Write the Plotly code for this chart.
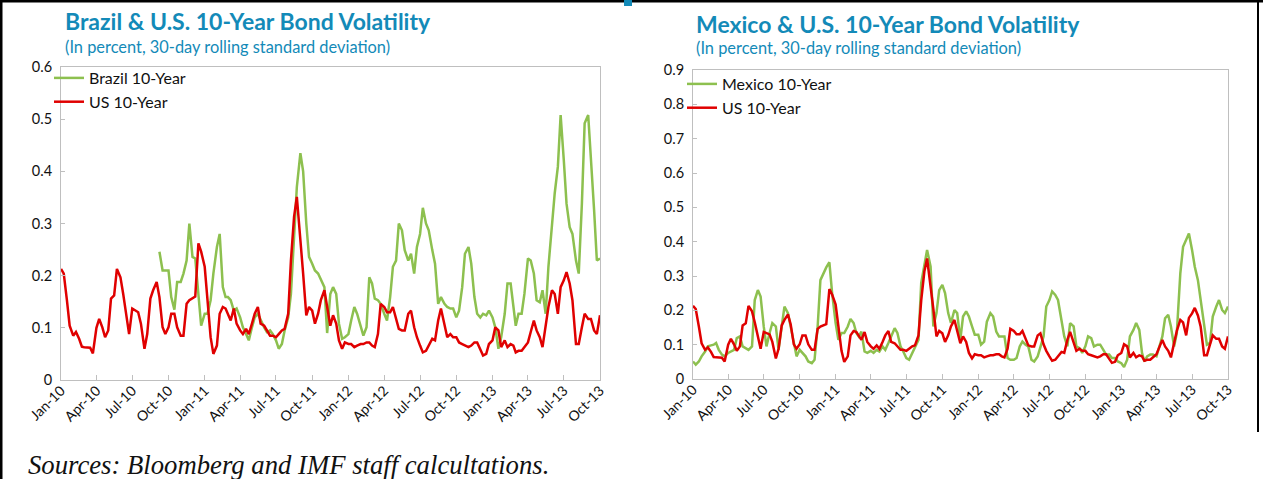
import plotly.graph_objects as go
from datetime import date

W, H = 1263, 479

# quarter-month grid: Jan-10 .. Oct-13
months = [(y, m) for y in range(2010, 2014) for m in range(1, 13)][:45]
days = [1, 8, 16, 23]
dates = [date(y, m, d) for (y, m) in months for d in days] + [date(2013, 10, 1)]

# ── values (in percent) ─────────────────────────────────────────────────────
us_10y = [
    .213, .204, .153, .104,  .085, .092, .079, .064,  .063, .062, .062, .051,
    .100, .117, .101, .082,  .095, .156, .162, .213,  .197, .165, .120, .088,
    .137, .133, .130, .108,  .060, .088, .156, .172,  .188, .159, .101, .088,
    .101, .127, .127, .101,  .085, .085, .146, .153,  .156, .160, .262, .246,
    .217, .153, .082, .050,  .066, .127, .140, .137,  .127, .114, .137, .108,
    .095, .088, .098, .088,  .108, .127, .140, .108,  .104, .095, .085, .085,
    .082, .088, .095, .098,  .127, .229, .313, .351,  .274, .204, .124, .140,
    .133, .108, .127, .153,  .172, .140, .104, .124,  .108, .076, .060, .072,
    .069, .069, .063, .066,  .069, .069, .072, .072,  .066, .063, .088, .146,
    .140, .130, .130, .140,  .120, .098, .095, .095,  .127, .133, .101, .082,
    .066, .053, .056, .066,  .079, .076, .114, .137,  .108, .082, .088, .082,
    .082, .072, .069, .066,  .063, .066, .072, .072,  .060, .047, .050, .069,
    .076, .101, .095, .063,  .076, .063, .069, .066,  .053, .056, .056, .063,
    .072, .092, .114, .095,  .082, .063, .101, .140,  .172, .165, .127, .178,
    .191, .207, .185, .153,  .069, .069, .101, .127,  .117, .117, .095, .088,
    .124,
]

brazil_10y = [None] * 33 + [
                      .246, .210, .210,
    .210, .159, .135, .188,  .188, .204, .229, .300,  .236, .233, .165, .104,
    .127, .127, .153, .204,  .255, .280, .178, .159,  .159, .153, .133, .137,
    .120, .101, .088, .076,  .101, .120, .127, .114,  .101, .092, .095, .088,
    .076, .060, .069, .095,  .120, .165, .268, .370,  .435, .400, .300, .236,
    .223, .210, .204, .191,  .178, .090, .165, .178,  .165, .108, .079, .082,
    .088, .114, .140, .127,  .101, .085, .101, .197,  .185, .156, .153, .146,
    .127, .114, .159, .217,  .229, .300, .287, .249,  .229, .242, .204, .255,
    .280, .330, .300, .287,  .249, .223, .146, .159,  .146, .140, .137, .137,
    .120, .133, .178, .242,  .255, .223, .159, .127,  .120, .127, .124, .133,
    .120, .101, .060, .082,  .127, .185, .185, .146,  .104, .127, .127, .165,
    .233, .229, .204, .153,  .149, .172, .127, .217,  .300, .358, .409, .508,
    .422, .338, .293, .280,  .229, .204, .338, .492,  .508, .430, .326, .229,
    .233,
]

mexico_10y = [
    .051, .042, .051, .066,  .080, .095, .098, .100,  .105, .085, .071, .066,
    .076, .080, .085, .119,  .124, .095, .090, .085,  .095, .230, .259, .240,
    .153, .095, .134, .163,  .153, .085, .153, .211,  .192, .153, .105, .066,
    .085, .076, .066, .051,  .046, .056, .153, .288,  .308, .325, .340, .250,
    .163, .114, .134, .134,  .153, .175, .163, .134,  .124, .138, .080, .076,
    .082, .076, .085, .080,  .095, .085, .105, .124,  .148, .134, .095, .080,
    .061, .056, .076, .090,  .114, .280, .327, .376,  .327, .153, .192, .259,
    .274, .250, .192, .163,  .201, .192, .114, .182,  .197, .182, .153, .129,
    .129, .100, .109, .167,  .192, .182, .138, .124,  .124, .124, .061, .056,
    .056, .061, .095, .109,  .100, .095, .056, .051,  .066, .095, .124, .211,
    .230, .255, .245, .230,  .163, .124, .095, .163,  .153, .095, .090, .076,
    .095, .124, .119, .095,  .100, .100, .085, .071,  .071, .061, .061, .051,
    .046, .035, .056, .124,  .143, .163, .143, .076,  .051, .066, .071, .071,
    .066, .095, .124, .177,  .187, .153, .095, .134,  .308, .385, .405, .424,
    .376, .327, .288, .230,  .143, .100, .105, .182,  .211, .230, .201, .192,
    .211,
]

GREEN = "#8DC04F"
RED = "#E00000"
BLUE = "#138AB8"
FONT = "Lato, 'Open Sans', sans-serif"


def px(x):
    return x / W


def py(y):
    return 1 - y / H


fig = go.Figure()

fig.add_trace(go.Scatter(x=dates, y=brazil_10y, mode="lines", name="Brazil 10-Year",
                         line=dict(color=GREEN, width=2.5), legend="legend"))
fig.add_trace(go.Scatter(x=dates, y=us_10y, mode="lines", name="US 10-Year",
                         line=dict(color=RED, width=2.5), legend="legend"))
fig.add_trace(go.Scatter(x=dates, y=mexico_10y, mode="lines", name="Mexico 10-Year",
                         line=dict(color=GREEN, width=2.5), xaxis="x2", yaxis="y2",
                         legend="legend2"))
fig.add_trace(go.Scatter(x=dates, y=us_10y, mode="lines", name="US 10-Year",
                         line=dict(color=RED, width=2.5), xaxis="x2", yaxis="y2",
                         legend="legend2"))

xcommon = dict(type="date", range=["2010-01-01", "2013-10-01"], tick0="2010-01-01",
               dtick="M3", tickformat="%b-%y", tickangle=-45, ticks="inside",
               ticklen=5, tickcolor="#BFBFBF", showgrid=False, showline=True,
               mirror=True, linecolor="#BFBFBF", linewidth=1, zeroline=False,
               automargin=False, ticklabelstandoff=-4,
               tickfont=dict(size=14, color="#111111"))
ycommon = dict(dtick=0.1, ticks="inside", ticklen=4, tickcolor="#BFBFBF",
               showgrid=False, showline=True, mirror=True, linecolor="#BFBFBF",
               linewidth=1, zeroline=False, automargin=False, ticklabelstandoff=5,
               tickfont=dict(size=14.5, color="#111111"))

legend_common = dict(xanchor="left", yanchor="top", bgcolor="rgba(0,0,0,0)",
                     font=dict(size=16, color="#111111"), itemwidth=30,
                     tracegroupgap=0)

fig.update_layout(
    width=W, height=H,
    margin=dict(l=0, r=0, t=0, b=0, autoexpand=False),
    paper_bgcolor="white", plot_bgcolor="white",
    font=dict(family=FONT),
    xaxis=dict(domain=[px(61), px(600)], anchor="y", **xcommon),
    yaxis=dict(domain=[py(380), py(67)], anchor="x", range=[0, 0.6], **ycommon),
    xaxis2=dict(domain=[px(693), px(1228)], anchor="y2", **xcommon),
    yaxis2=dict(domain=[py(379), py(70)], anchor="x2", range=[0, 0.9], **ycommon),
    legend=dict(x=px(49), y=py(61), **legend_common),
    legend2=dict(x=px(682), y=py(67), **legend_common),
    showlegend=True,
)

annotations = [
    (63, 21, "<b>Brazil & U.S. 10-Year Bond Volatility</b>", 23, BLUE, FONT),
    (63, 46, "(In percent, 30-day rolling standard deviation)", 16.4, BLUE, FONT),
    (694, 24, "<b>Mexico & U.S. 10-Year Bond Volatility</b>", 23, BLUE, FONT),
    (694, 48, "(In percent, 30-day rolling standard deviation)", 16.4, BLUE, FONT),
    (26, 465, "<i>Sources: Bloomberg and IMF staff calcultations.</i>", 26.7, "#111111",
     "'Liberation Serif', 'Times New Roman', serif"),
]
for x, y, text, size, color, family in annotations:
    fig.add_annotation(x=px(x), y=py(y), xref="paper", yref="paper", text=text,
                       showarrow=False, xanchor="left", yanchor="middle",
                       font=dict(size=size, color=color, family=family))

# frame lines around the page
fig.add_shape(type="line", xref="paper", yref="paper", x0=0, x1=1, y0=py(1), y1=py(1),
              line=dict(color="black", width=3))
fig.add_shape(type="line", xref="paper", yref="paper", x0=px(1), x1=px(1), y0=0, y1=1,
              line=dict(color="black", width=3))
fig.add_shape(type="line", xref="paper", yref="paper", x0=px(1258), x1=px(1258),
              y0=py(432), y1=1, line=dict(color="black", width=2))
fig.add_shape(type="rect", xref="paper", yref="paper", x0=px(624), x1=px(632),
              y0=py(6), y1=1, line=dict(width=0), fillcolor=BLUE)

# drop the default page margin so the figure sits at the window's corner
fig.write_html("out.html", config={"displayModeBar": False},
               post_script="document.body.style.margin='0';")
